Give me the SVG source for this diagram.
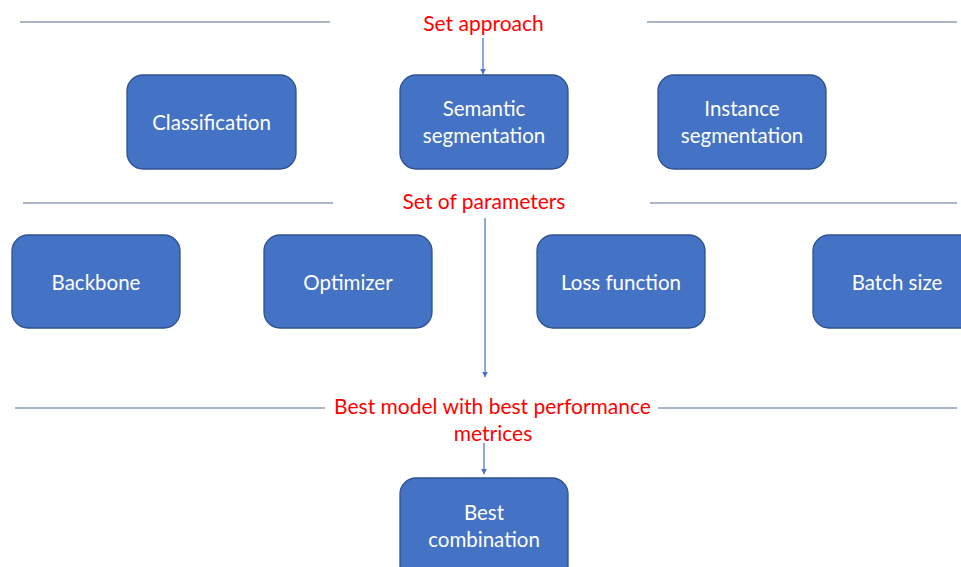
<svg xmlns="http://www.w3.org/2000/svg" width="961" height="567" viewBox="0 0 961 567">
<style>
.box{fill:#4472C4;stroke:#2F528F;stroke-width:1.3}
.t{font-family:Lato,"Open Sans",sans-serif;font-size:20.5px;fill:#fff;text-anchor:middle}
.r{font-family:Lato,"Open Sans",sans-serif;font-size:21px;fill:#FF0000;text-anchor:middle}
.sep{stroke:#8E9CB5;stroke-width:1.3}
.arr{stroke:#4472C4;stroke-width:1.2;fill:none;marker-end:url(#ah)}
</style>
<defs>
<marker id="ah" viewBox="0 0 10 10" refX="9" refY="5" markerWidth="6" markerHeight="6" markerUnits="userSpaceOnUse" orient="auto">
<path d="M0,0 L10,5 L0,10 z" fill="#4472C4"/>
</marker>
</defs>
<rect width="961" height="567" fill="#fff"/>
<g id="separators">
<line class="sep" x1="20" y1="22" x2="330" y2="22"/>
<line class="sep" x1="647" y1="22" x2="957" y2="22"/>
<line class="sep" x1="23" y1="203" x2="333" y2="203"/>
<line class="sep" x1="650" y1="203" x2="957" y2="203"/>
<line class="sep" x1="15" y1="408" x2="325" y2="408"/>
<line class="sep" x1="658" y1="408" x2="957" y2="408"/>
</g>
<g id="labels">
<text class="r" x="483.5" y="31">Set approach</text>
<text class="r" x="484" y="209">Set of parameters</text>
<text class="r" x="492.5" y="414">Best model with best performance</text>
<text class="r" x="493" y="441">metrices</text>
</g>
<g id="connectors">
<line class="arr" x1="483" y1="38" x2="483" y2="74"/>
<line class="arr" x1="485" y1="218" x2="485" y2="377"/>
<line class="arr" x1="484" y1="443" x2="484" y2="474"/>
</g>
<g id="classification"><rect class="box" x="127" y="75" width="169" height="94" rx="16"/><text class="t" x="211.5" y="130">Classification</text></g>
<g id="semantic"><rect class="box" x="400" y="75" width="168" height="94" rx="16"/><text class="t" x="484" y="116">Semantic</text><text class="t" x="484" y="143">segmentation</text></g>
<g id="instance"><rect class="box" x="658" y="75" width="168" height="94" rx="16"/><text class="t" x="742" y="116">Instance</text><text class="t" x="742" y="143">segmentation</text></g>
<g id="backbone"><rect class="box" x="12" y="235" width="168" height="93" rx="16"/><text class="t" x="96" y="290">Backbone</text></g>
<g id="optimizer"><rect class="box" x="264" y="235" width="168" height="93" rx="16"/><text class="t" x="348" y="290">Optimizer</text></g>
<g id="loss"><rect class="box" x="537" y="235" width="168" height="93" rx="16"/><text class="t" x="621" y="290">Loss function</text></g>
<g id="batch"><rect class="box" x="813" y="235" width="168" height="93" rx="16"/><text class="t" x="897" y="290">Batch size</text></g>
<g id="best"><rect class="box" x="400" y="478" width="168" height="110" rx="16"/><text class="t" x="484" y="520">Best</text><text class="t" x="484" y="547">combination</text></g>
</svg>
